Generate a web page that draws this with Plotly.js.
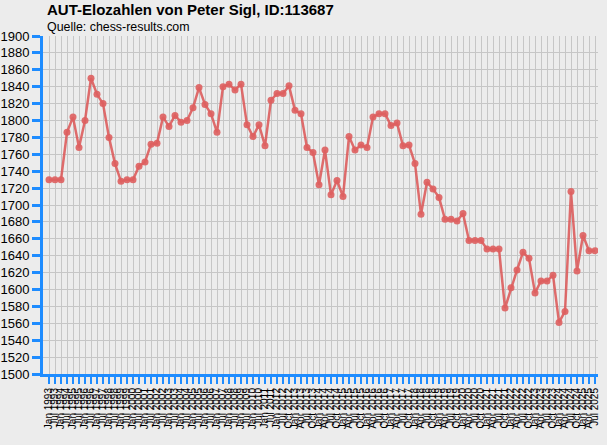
<!DOCTYPE html>
<html>
<head>
<meta charset="utf-8">
<script src="https://cdn.plot.ly/plotly-3.0.1.min.js"></script>
<style>
    html, body { margin: 0; padding: 0; background: #ececec; }
    #chart { width: 607px; height: 445px; }
</style>
</head>
<body>
<div id="chart"></div>
<script>
// rating lists: half-yearly until Jul 2012, quarterly afterwards
var halfYearLists = [
    "Jan 1993", "Jul 1993", "Jan 1994", "Jul 1994", "Jan 1995", "Jul 1995", "Jan 1996", "Jul 1996",
    "Jan 1997", "Jul 1997", "Jan 1998", "Jul 1998", "Jan 1999", "Jul 1999", "Jan 2000", "Jul 2000",
    "Jan 2001", "Jul 2001", "Jan 2002", "Jul 2002", "Jan 2003", "Jul 2003", "Jan 2004", "Jul 2004",
    "Jan 2005", "Jul 2005", "Jan 2006", "Jul 2006", "Jan 2007", "Jul 2007", "Jan 2008", "Jul 2008",
    "Jan 2009", "Jul 2009", "Jan 2010", "Jul 2010", "Jan 2011", "Jul 2011", "Jan 2012", "Jul 2012"
];
var quarterLists = [
    "Oct 2012",
    "Jan 2013", "Apr 2013", "Jul 2013", "Oct 2013", "Jan 2014", "Apr 2014", "Jul 2014", "Oct 2014",
    "Jan 2015", "Apr 2015", "Jul 2015", "Oct 2015", "Jan 2016", "Apr 2016", "Jul 2016", "Oct 2016",
    "Jan 2017", "Apr 2017", "Jul 2017", "Oct 2017", "Jan 2018", "Apr 2018", "Jul 2018", "Oct 2018",
    "Jan 2019", "Apr 2019", "Jul 2019", "Oct 2019", "Jan 2020", "Apr 2020", "Jul 2020", "Oct 2020",
    "Jan 2021", "Apr 2021", "Jul 2021", "Oct 2021", "Jan 2022", "Apr 2022", "Jul 2022", "Oct 2022",
    "Jan 2023", "Apr 2023", "Jul 2023", "Oct 2023", "Jan 2024", "Apr 2024", "Jul 2024", "Oct 2024",
    "Jan 2025", "Apr 2025", "Jul 2025"
];

var halfYearElo = [
    1730, 1730, 1730, 1786, 1804, 1768, 1800, 1850, 1831, 1820,
    1780, 1749, 1728, 1730, 1730, 1746, 1751, 1772, 1773, 1804,
    1793, 1806, 1798, 1800, 1815, 1839, 1819, 1808, 1786, 1840,
    1843, 1836, 1843, 1795, 1781, 1795, 1770, 1824, 1832, 1832
];
var quarterElo = [
    1841,
    1812, 1808, 1768, 1762, 1724, 1765, 1712, 1729, 1710, 1781,
    1765, 1771, 1768, 1804, 1808, 1808, 1794, 1797, 1770, 1771,
    1749, 1689, 1727, 1719, 1709, 1683, 1683, 1681, 1690, 1658,
    1658, 1658, 1648, 1648, 1648, 1578, 1602, 1623, 1644, 1637,
    1596, 1610, 1610, 1617, 1561, 1574, 1716, 1622, 1664, 1646,
    1646
];

var ratingDates = halfYearLists.concat(quarterLists);
var eloValues = halfYearElo.concat(quarterElo);

var axisBlue = "#1e8cff";
var gridGrey = "#c6c6c6";

var eloTrace =
{
    x: ratingDates,
    y: eloValues,
    mode: "lines+markers",
    type: "scatter",
    line: { color: "rgba(220, 85, 85, 0.85)", width: 2.5 },
    marker: { color: "rgba(222, 95, 95, 0.9)", size: 7 },
    hoverinfo: "x+y"
};

var layout =
{
    width: 607,
    height: 445,
    paper_bgcolor: "#ececec",
    plot_bgcolor: "#ececec",
    margin: { l: 43, r: 9, t: 36, b: 71 },
    showlegend: false,
    font: { family: "Liberation Sans, Arial, sans-serif", color: "#000" },
    xaxis:
    {
        type: "category",
        range: [-1, 91.5],
        tickmode: "array",
        tickvals: ratingDates,
        ticktext: ratingDates,
        tickangle: -90,
        tickfont: { size: 10, color: "#000" },
        ticks: "outside",
        ticklen: 7,
        tickwidth: 2.5,
        tickcolor: axisBlue,
        showline: true,
        linecolor: axisBlue,
        linewidth: 3,
        showgrid: true,
        gridcolor: gridGrey,
        gridwidth: 1,
        zeroline: false,
        automargin: false,
        fixedrange: true
    },
    yaxis:
    {
        range: [1500, 1900],
        tickmode: "linear",
        tick0: 1500,
        dtick: 20,
        tickfont: { size: 13, color: "#000" },
        ticks: "outside",
        ticklen: 8,
        tickwidth: 3,
        tickcolor: axisBlue,
        showline: true,
        linecolor: axisBlue,
        linewidth: 3,
        showgrid: true,
        gridcolor: gridGrey,
        gridwidth: 1,
        zeroline: false,
        automargin: false,
        fixedrange: true
    },
    annotations:
    [
        {
            text: "<b>AUT-Elozahlen von Peter Sigl, ID:113687</b>",
            xref: "paper", yref: "paper",
            x: 0.004, y: 1.048,
            xanchor: "left", yanchor: "bottom",
            showarrow: false,
            font: { size: 15, color: "#000" }
        },
        {
            text: "Quelle: chess-results.com",
            xref: "paper", yref: "paper",
            x: 0.004, y: 1.0,
            xanchor: "left", yanchor: "bottom",
            showarrow: false,
            font: { size: 12.4, color: "#000" }
        }
    ]
};

var config = { displayModeBar: false, staticPlot: true };

Plotly.newPlot("chart", [eloTrace], layout, config);
</script>
</body>
</html>
